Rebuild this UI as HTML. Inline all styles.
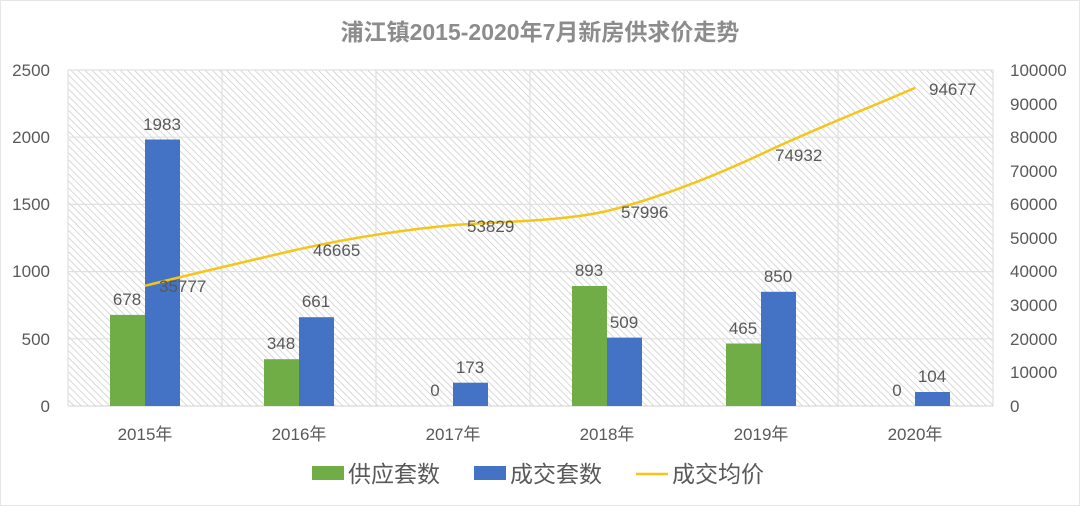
<!DOCTYPE html>
<html><head><meta charset="utf-8"><style>
body{margin:0;background:#fff;}
svg{display:block;font-family:"Liberation Sans","Noto Sans CJK SC",sans-serif;}
</style></head><body>
<svg width="1080" height="506" viewBox="0 0 1080 506" xmlns="http://www.w3.org/2000/svg">
<defs>
<pattern id="h" width="5" height="5" patternUnits="userSpaceOnUse" patternTransform="rotate(-45)">
<rect width="5" height="5" fill="#fff"/>
<line x1="0" y1="0" x2="0" y2="5" stroke="#cfcfcf" stroke-width="1.6"/>
</pattern>
</defs>
<rect x="0.5" y="0.5" width="1079" height="505" fill="#fff" stroke="#e6e6e6"/>
<text x="540" y="40" text-anchor="middle" font-size="23" font-weight="bold" fill="#8c8c8c">浦江镇2015-2020年7月新房供求价走势</text>
<rect x="68" y="70" width="925" height="336" fill="url(#h)"/>
<g stroke="#e0e0e0" stroke-width="1.2">
<line x1="68" y1="70" x2="993" y2="70"/><line x1="68" y1="137.2" x2="993" y2="137.2"/>
<line x1="68" y1="204.4" x2="993" y2="204.4"/><line x1="68" y1="271.6" x2="993" y2="271.6"/>
<line x1="68" y1="338.8" x2="993" y2="338.8"/>
<line x1="222" y1="70" x2="222" y2="406"/><line x1="376" y1="70" x2="376" y2="406"/>
<line x1="530" y1="70" x2="530" y2="406"/><line x1="684" y1="70" x2="684" y2="406"/>
<line x1="838" y1="70" x2="838" y2="406"/><line x1="68" y1="70" x2="68" y2="406"/><line x1="993" y1="70" x2="993" y2="406"/>
</g>
<line x1="68" y1="406" x2="993" y2="406" stroke="#d0d0d0"/>
<g font-size="17" fill="#595959">
<text x="50" y="76" text-anchor="end">2500</text><text x="50" y="143" text-anchor="end">2000</text>
<text x="50" y="210" text-anchor="end">1500</text><text x="50" y="277" text-anchor="end">1000</text>
<text x="50" y="345" text-anchor="end">500</text><text x="50" y="412" text-anchor="end">0</text>
<text x="1010" y="76">100000</text><text x="1010" y="110">90000</text><text x="1010" y="143">80000</text>
<text x="1010" y="177">70000</text><text x="1010" y="210">60000</text><text x="1010" y="244">50000</text>
<text x="1010" y="277">40000</text><text x="1010" y="311">30000</text><text x="1010" y="345">20000</text>
<text x="1010" y="378">10000</text><text x="1010" y="412">0</text>
<text x="145" y="440" text-anchor="middle">2015年</text><text x="299" y="440" text-anchor="middle">2016年</text>
<text x="453" y="440" text-anchor="middle">2017年</text><text x="607" y="440" text-anchor="middle">2018年</text>
<text x="761" y="440" text-anchor="middle">2019年</text><text x="915" y="440" text-anchor="middle">2020年</text>
</g>
<g fill="#70ad47">
<rect x="110" y="314.9" width="35" height="91.1"/><rect x="264" y="359.2" width="35" height="46.8"/>
<rect x="572" y="286" width="35" height="120"/><rect x="726" y="343.5" width="35" height="62.5"/>
</g>
<g fill="#4472c4">
<rect x="145" y="139.5" width="35" height="266.5"/><rect x="299" y="317.2" width="35" height="88.8"/>
<rect x="453" y="382.7" width="35" height="23.3"/><rect x="607" y="337.6" width="35" height="68.4"/>
<rect x="761" y="291.8" width="35" height="114.2"/><rect x="915" y="392" width="35" height="14"/>
</g>
<path d="M145,285.8 C196,273 248,261 299,249.2 C350,238 402,230 453,225.1 C504,221 556,222 607,211.1 C658,198 710,178 761,154.2 C812,130 864,110 915,87.9" fill="none" stroke="#f5c518" stroke-width="2.5"/>
<g font-size="17" fill="#595959">
<text x="159" y="292">35777</text><text x="313" y="256">46665</text><text x="467" y="232">53829</text>
<text x="621" y="218">57996</text><text x="775" y="161">74932</text><text x="929" y="95">94677</text>
</g>
<g font-size="17" fill="#595959" text-anchor="middle">
<text x="127" y="305">678</text><text x="162" y="130">1983</text>
<text x="281" y="349">348</text><text x="316" y="307">661</text>
<text x="435" y="396">0</text><text x="470" y="373">173</text>
<text x="589" y="276">893</text><text x="624" y="328">509</text>
<text x="743" y="334">465</text><text x="778" y="282">850</text>
<text x="897" y="396">0</text><text x="932" y="382">104</text>
</g>
<g font-size="23" fill="#595959">
<rect x="312" y="466" width="32" height="14" fill="#70ad47"/><text x="348" y="482">供应套数</text>
<rect x="474" y="466" width="32" height="14" fill="#4472c4"/><text x="510" y="482">成交套数</text>
<line x1="636" y1="474" x2="668" y2="474" stroke="#f5c518" stroke-width="2.5"/><text x="672" y="482">成交均价</text>
</g>
</svg>
</body></html>
